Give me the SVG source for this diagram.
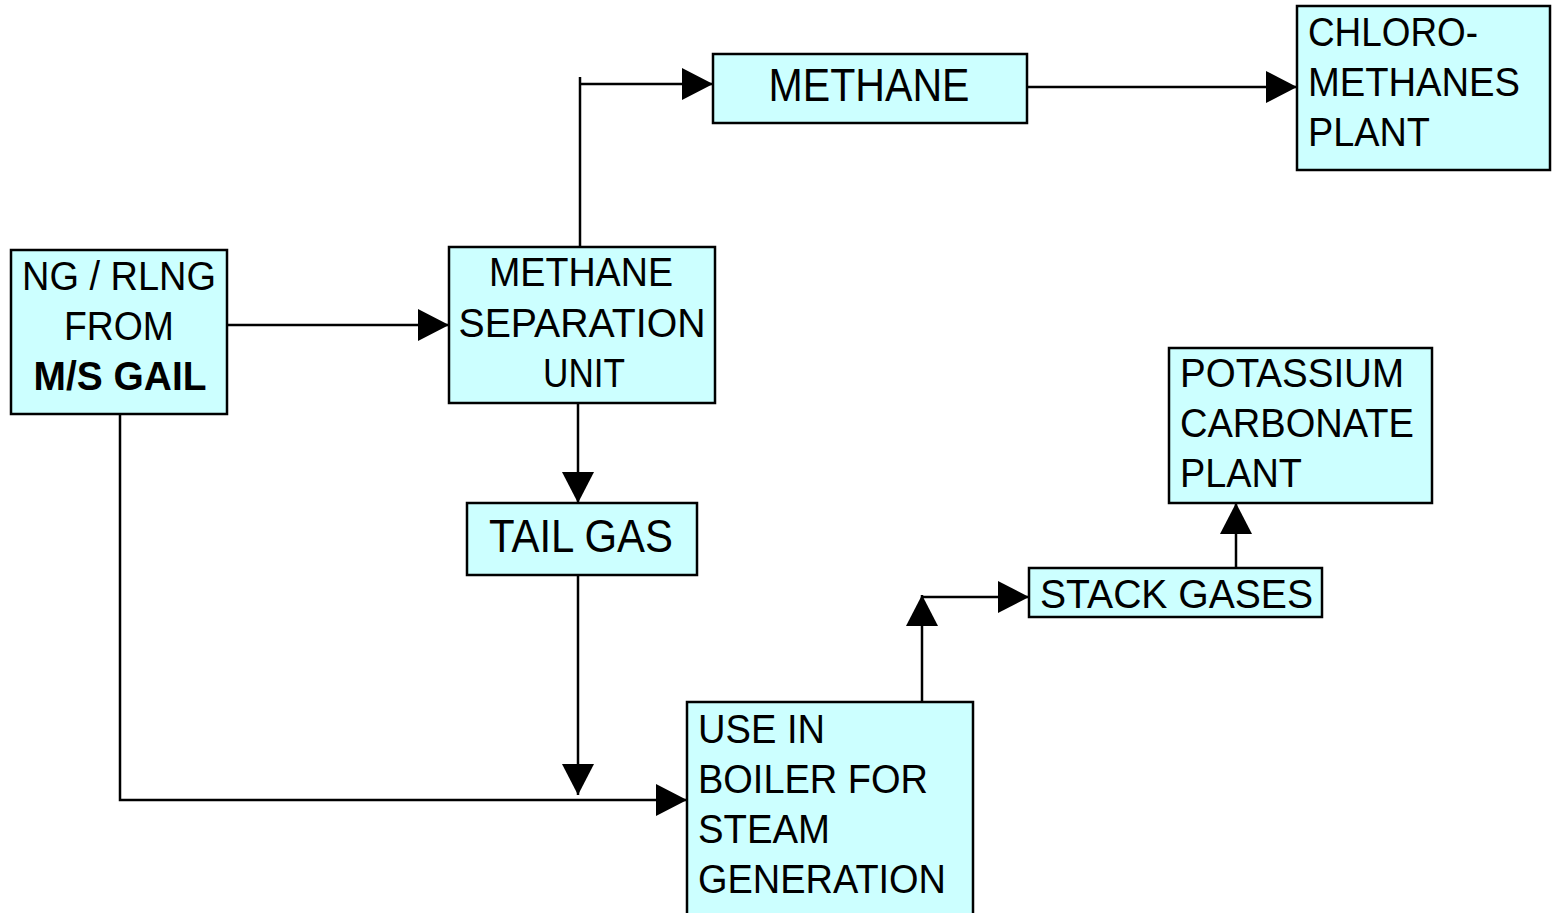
<svg xmlns="http://www.w3.org/2000/svg" width="1552" height="913" viewBox="0 0 1552 913">
<style>
.box{fill:#CCFFFF;stroke:#000;stroke-width:2.5}
.t{font-family:"Liberation Sans",Arial,sans-serif;font-size:40px;fill:#000}
.c{text-anchor:middle}
.b{font-weight:bold}
.ln{fill:none;stroke:#000;stroke-width:2.5}
</style>
<defs>
<marker id="ah" markerUnits="userSpaceOnUse" markerWidth="32" markerHeight="34" viewBox="0 0 32 34" refX="31" refY="17" orient="auto">
<path d="M0,1 L31,17 L0,33 Z" fill="#000"/>
</marker>
</defs>
<rect width="1552" height="913" fill="#fff"/>
<g id="connectors">
<path class="ln" d="M227,325 H449" marker-end="url(#ah)"/>
<path class="ln" d="M580,247 V77"/>
<path class="ln" d="M580,84 H713" marker-end="url(#ah)"/>
<path class="ln" d="M1023,87 H1297" marker-end="url(#ah)"/>
<path class="ln" d="M578,403 V503" marker-end="url(#ah)"/>
<path class="ln" d="M578,575 V795" marker-end="url(#ah)"/>
<path class="ln" d="M120,414 V800 H687" marker-end="url(#ah)"/>
<path class="ln" d="M922,702 V595" marker-end="url(#ah)"/>
<path class="ln" d="M922,597 H1029" marker-end="url(#ah)"/>
<path class="ln" d="M1236,568 V503" marker-end="url(#ah)"/>
</g>
<g id="ng">
<rect class="box" x="11" y="250" width="216" height="164"/>
<text class="t c" x="119" y="290" textLength="194" lengthAdjust="spacingAndGlyphs">NG / RLNG</text>
<text class="t c" x="119" y="340" textLength="110" lengthAdjust="spacingAndGlyphs">FROM</text>
<text class="t c b" x="120" y="390" textLength="173" lengthAdjust="spacingAndGlyphs">M/S GAIL</text>
</g>
<g id="msu">
<rect class="box" x="449" y="247" width="266" height="156"/>
<text class="t c" x="581" y="286" textLength="184" lengthAdjust="spacingAndGlyphs">METHANE</text>
<text class="t c" x="582" y="337" textLength="247" lengthAdjust="spacingAndGlyphs">SEPARATION</text>
<text class="t c" x="584" y="387" textLength="82" lengthAdjust="spacingAndGlyphs">UNIT</text>
</g>
<g id="methane">
<rect class="box" x="713" y="54" width="314" height="69"/>
<text class="t c" x="869" y="101" style="font-size:46px" textLength="201" lengthAdjust="spacingAndGlyphs">METHANE</text>
</g>
<g id="chloro">
<rect class="box" x="1297" y="6" width="253" height="164"/>
<text class="t" x="1308" y="46" textLength="170" lengthAdjust="spacingAndGlyphs">CHLORO-</text>
<text class="t" x="1308" y="96" textLength="212" lengthAdjust="spacingAndGlyphs">METHANES</text>
<text class="t" x="1308" y="146" textLength="122" lengthAdjust="spacingAndGlyphs">PLANT</text>
</g>
<g id="tailgas">
<rect class="box" x="467" y="503" width="230" height="72"/>
<text class="t c" x="581" y="552" style="font-size:46px" textLength="184" lengthAdjust="spacingAndGlyphs">TAIL GAS</text>
</g>
<g id="boiler">
<rect class="box" x="687" y="702" width="286" height="220"/>
<text class="t" x="698" y="743" textLength="127" lengthAdjust="spacingAndGlyphs">USE IN</text>
<text class="t" x="698" y="793" textLength="230" lengthAdjust="spacingAndGlyphs">BOILER FOR</text>
<text class="t" x="698" y="843" textLength="132" lengthAdjust="spacingAndGlyphs">STEAM</text>
<text class="t" x="698" y="893" textLength="248" lengthAdjust="spacingAndGlyphs">GENERATION</text>
</g>
<g id="stack">
<rect class="box" x="1029" y="568" width="293" height="49"/>
<text class="t" x="1040" y="608" textLength="273" lengthAdjust="spacingAndGlyphs">STACK GASES</text>
</g>
<g id="potassium">
<rect class="box" x="1169" y="348" width="263" height="155"/>
<text class="t" x="1180" y="387" textLength="224" lengthAdjust="spacingAndGlyphs">POTASSIUM</text>
<text class="t" x="1180" y="437" textLength="234" lengthAdjust="spacingAndGlyphs">CARBONATE</text>
<text class="t" x="1180" y="487" textLength="122" lengthAdjust="spacingAndGlyphs">PLANT</text>
</g>
</svg>
